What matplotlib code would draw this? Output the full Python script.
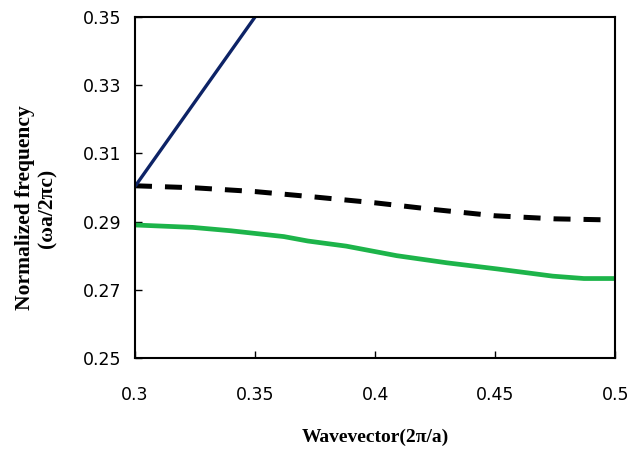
import matplotlib
matplotlib.use("Agg")
import matplotlib.pyplot as plt

# Data
blue_k = [0.30, 0.35, 0.40]
blue_f = [0.3003, 0.3500, 0.4000]

dash_k = [0.30, 0.325, 0.35, 0.375, 0.40, 0.425, 0.45, 0.475, 0.497]
dash_f = [0.3005, 0.2999, 0.2988, 0.2972, 0.2955, 0.2935, 0.2917, 0.2908, 0.2905]

green_k = [0.30, 0.324, 0.340, 0.362, 0.372, 0.388, 0.409, 0.430, 0.451, 0.474, 0.487, 0.50]
green_f = [0.2890, 0.2883, 0.2873, 0.2856, 0.2843, 0.2828, 0.2800, 0.2779, 0.2761, 0.2740, 0.2733, 0.2733]

xticks = [0.3, 0.35, 0.4, 0.45, 0.5]
xticklabels = ["0.3", "0.35", "0.4", "0.45", "0.5"]
yticks = [0.25, 0.27, 0.29, 0.31, 0.33, 0.35]
yticklabels = ["0.25", "0.27", "0.29", "0.31", "0.33", "0.35"]

fig = plt.figure(figsize=(6.29, 4.54), dpi=100)
ax = fig.add_axes([0.2146, 0.2115, 0.7634, 0.7511])

ax.plot(green_k, green_f, color="#1db44a", lw=3.4, solid_capstyle="butt")
ax.plot(dash_k, dash_f, color="black", lw=3.6, dashes=(3.4, 2.6))
ax.plot(blue_k, blue_f, color="#0d2366", lw=2.4)

ax.set_xlim(0.3, 0.5)
ax.set_ylim(0.25, 0.35)
ax.set_xticks(xticks)
ax.set_xticklabels(xticklabels)
ax.set_yticks(yticks)
ax.set_yticklabels(yticklabels)
ax.tick_params(direction="in", length=5, width=1, labelsize=12.5)
ax.tick_params(axis="x", pad=20)
ax.tick_params(axis="y", pad=10)
for t in ax.get_xticklabels() + ax.get_yticklabels():
    t.set_fontfamily("DejaVu Sans")
for s in ax.spines.values():
    s.set_linewidth(1.5)

ax.set_xlabel("Wavevector(2\u03c0/a)", fontfamily="Liberation Serif",
              fontweight="bold", fontsize=14, labelpad=18)
ax.set_ylabel("Normalized frequency\n(\u03c9a/2\u03c0c)", fontfamily="Liberation Serif",
              fontweight="bold", fontsize=15.5, linespacing=1.15)
ax.yaxis.set_label_coords(-0.162, 0.44)

fig.savefig("out.png", dpi=100)
